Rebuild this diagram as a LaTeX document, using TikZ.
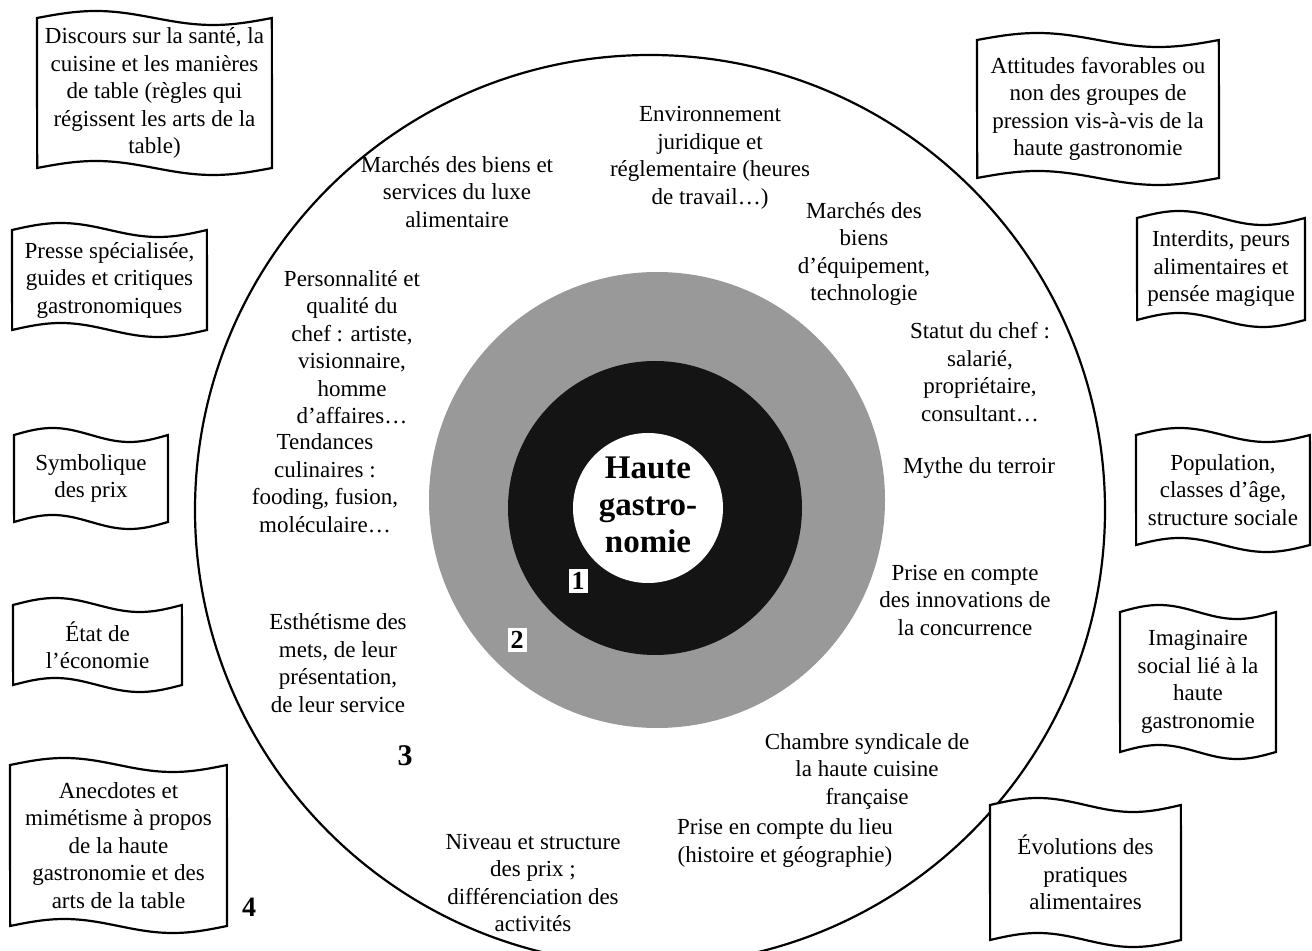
\documentclass[tikz,border=0pt]{standalone}
\usepackage{fontspec}
\setmainfont{Liberation Serif}
\newcommand\wavebox[6]{%
  \draw[boxline] plot[domain=0:1,samples=60] ({#2+(#3-#2)*\x},{#4-7*sin(360*\x)})
    -- plot[domain=1:0,samples=60] ({#2+(#3-#2)*\x},{#5-7*sin(360*\x)}) -- cycle;
  \node[wtext] (#1) at ({(#2+#3)/2},{(#4+#5)/2}) {#6};
}
\begin{document}
\begin{tikzpicture}[x=0.5pt,y=-0.5pt,
  wtext/.style={align=center,font=\fontsize{11.5}{13.75}\selectfont,inner sep=0pt},
  boxline/.style={draw=black,line width=1.1pt,fill=white},
  num/.style={font=\fontsize{13}{14}\selectfont\bfseries,inner sep=1.5pt}]
\clip (0,0) rectangle (1312,951);
\fill[white] (0,0) rectangle (1312,951);
% rings
\draw[line width=1.1pt,fill=white] (650,510) circle[radius=455];
\fill[black!40] (657,500) circle[radius=228];
\fill[black!92] (655,508) circle[radius=147];
\fill[white] (648,508) circle[radius=75];
\node[font=\fontsize{16.5}{18.5}\selectfont\bfseries,align=center,inner sep=0pt] (hg) at (648,505) {Haute\\gastro-\\nomie};
\node[num,fill=white] (n1) at (578,581) {1};
\node[num,fill=white] (n2) at (517,640) {2};
\node[font=\fontsize{15}{16}\selectfont\bfseries,inner sep=0pt] (n3) at (405,756) {3};
\node[font=\fontsize{14}{16}\selectfont\bfseries,inner sep=0pt] (n4) at (249,907) {4};
% ring 3 texts
\node[wtext] (env) at (710,158) {Environnement\\juridique et\\réglementaire (heures\\de travail…)};
\node[wtext] (mlux) at (457,192) {Marchés des biens et\\services du luxe\\alimentaire};
\node[wtext] (mequip) at (864,254) {Marchés des\\biens\\d’équipement,\\technologie};
\node[wtext] (perso) at (352,347) {Personnalité et\\qualité du\\chef : artiste,\\visionnaire,\\homme\\d’affaires…};
\node[wtext] (statut) at (980,372) {Statut du chef :\\salarié,\\propriétaire,\\consultant…};
\node[wtext] (tend) at (325,483) {Tendances\\culinaires :\\fooding, fusion,\\moléculaire…};
\node[wtext] (mythe) at (979,468) {Mythe du terroir};
\node[wtext] (innov) at (965,600) {Prise en compte\\des innovations de\\la concurrence};
\node[wtext] (esth) at (338,663) {Esthétisme des\\mets, de leur\\présentation,\\de leur service};
\node[wtext] (chambre) at (867,771) {Chambre syndicale de\\la haute cuisine\\française};
\node[wtext] (niveau) at (533,883) {Niveau et structure\\des prix ;\\différenciation des\\activités};
\node[wtext] (lieu) at (785,843) {Prise en compte du lieu\\(histoire et géographie)};
% wave boxes, left
\wavebox{discours}{37}{272}{18}{168}{Discours sur la santé, la\\cuisine et les manières\\de table (règles qui\\régissent les arts de la\\table)}
\wavebox{presse}{12}{207}{230}{330}{Presse spécialisée,\\guides et critiques\\gastronomiques}
\wavebox{symb}{14}{168}{435}{522}{Symbolique\\des prix}
\wavebox{etat}{13}{182}{605}{685}{État de\\l’économie}
\wavebox{anec}{10}{227}{765}{926}{Anecdotes et\\mimétisme à propos\\de la haute\\gastronomie et des\\arts de la table}
% wave boxes, right
\wavebox{attit}{977}{1219}{40}{178}{Attitudes favorables ou\\non des groupes de\\pression vis-à-vis de la\\haute gastronomie}
\wavebox{interd}{1137}{1305}{218}{320}{Interdits, peurs\\alimentaires et\\pensée magique}
\wavebox{popul}{1136}{1310}{435}{545}{Population,\\classes d’âge,\\structure sociale}
\wavebox{imag}{1120}{1276}{612}{752}{Imaginaire\\social lié à la\\haute\\gastronomie}
\wavebox{evol}{990}{1181}{805}{940}{Évolutions des\\pratiques\\alimentaires}
\end{tikzpicture}
\end{document}
